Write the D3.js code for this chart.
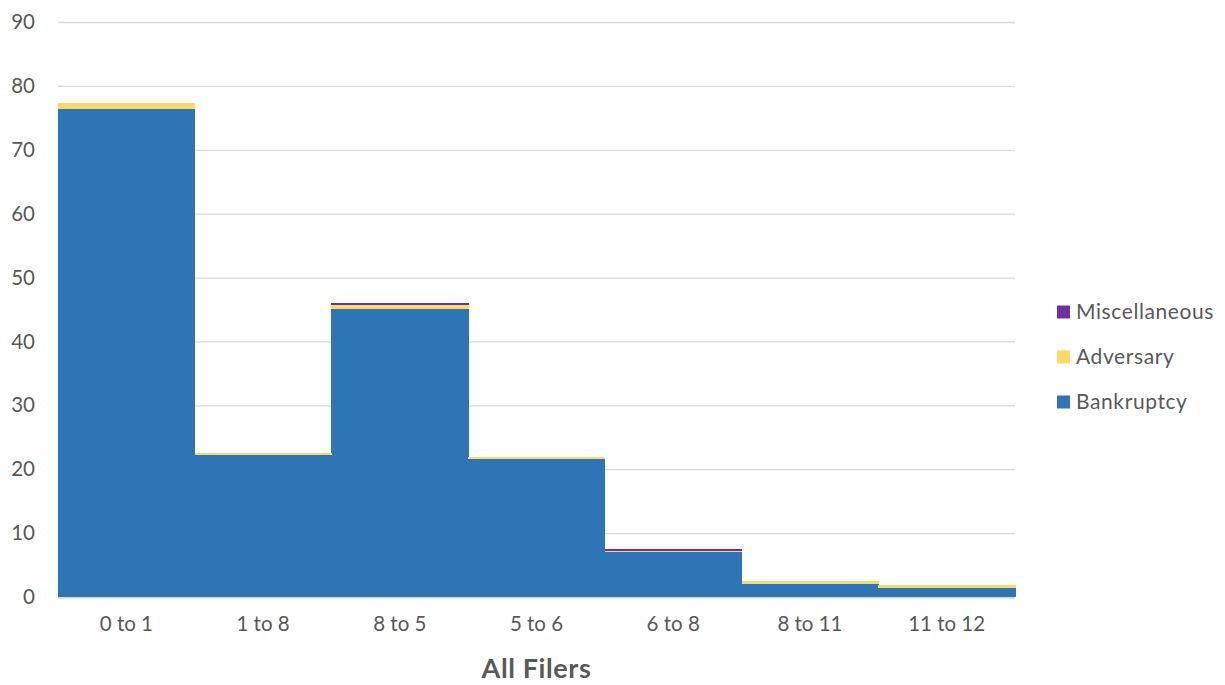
<!DOCTYPE html>
<html><head><meta charset="utf-8">
<script src="https://cdn.jsdelivr.net/npm/d3@7"></script>
<style>body{margin:0;background:#fff}text{font-family:Lato,"Open Sans",sans-serif}</style>
</head><body><svg id="c" width="1225" height="685"></svg>
<script>
const categories = ["0 to 1","1 to 8","8 to 5","5 to 6","6 to 8","8 to 11","11 to 12"];
const bankruptcy = [76.4, 22.2, 45.1, 21.6, 7.1, 2.1, 1.45];
const adversary = [0.95, 0.35, 0.6, 0.35, 0.05, 0.4, 0.4];
const miscellaneous = [0, 0, 0.3, 0, 0.4, 0, 0];
const yTicks = [0,10,20,30,40,50,60,70,80,90];
const seriesNames = ["Bankruptcy","Adversary","Miscellaneous"];
const colors = {Bankruptcy:"#2E75B6", Adversary:"#FFD966", Miscellaneous:"#7030A0"};

const svg = d3.select("#c");
const m = {l:58, r:210, t:22, b:88};
const W = 1225, H = 685;
const x = d3.scaleBand().domain(categories).range([m.l, W-m.r]).padding(0);
const y = d3.scaleLinear().domain([0,90]).range([H-m.b, m.t]);

const rows = categories.map((c,i)=>({cat:c, Bankruptcy:bankruptcy[i], Adversary:adversary[i], Miscellaneous:miscellaneous[i]}));
const stack = d3.stack().keys(seriesNames)(rows);

// gridlines
svg.append("g").selectAll("line").data(yTicks).join("line")
  .attr("x1", m.l).attr("x2", W-m.r)
  .attr("y1", d=>y(d)+0.5).attr("y2", d=>y(d)+0.5)
  .attr("stroke", "#d9d9d9").attr("stroke-width", 1.3);

svg.append("g").attr("shape-rendering","crispEdges").selectAll("g").data(stack).join("g")
  .attr("fill", d=>colors[d.key])
  .selectAll("rect").data(d=>d).join("rect")
  .attr("x", d=>x(d.data.cat)).attr("width", x.bandwidth()+0.6)
  .attr("y", d=>y(d[1])).attr("height", d=>Math.max(0, y(d[0])-y(d[1])));

// baseline
svg.append("line").attr("x1", m.l).attr("x2", W-m.r)
  .attr("y1", y(0)+1).attr("y2", y(0)+1).attr("stroke","#d9d9d9").attr("stroke-width",1.3);

// y axis labels
const ya = d3.axisLeft(y).tickValues(yTicks).tickSize(0).tickPadding(0);
const gy = svg.append("g").attr("transform", `translate(${m.l-23},0)`).call(ya);
gy.select(".domain").remove();
gy.selectAll("text").attr("font-size", 20.5).attr("fill","#595959").style("font-family","Lato,'Open Sans',sans-serif");

// x axis labels
const xa = d3.axisBottom(x).tickSize(0).tickPadding(0);
const gx = svg.append("g").attr("transform", `translate(0,${y(0)+19})`).call(xa);
gx.select(".domain").remove();
gx.selectAll("text").attr("font-size", 20.5).attr("fill","#595959").style("font-family","Lato,'Open Sans',sans-serif");

// title
svg.append("text").attr("x", (m.l + W-m.r)/2).attr("y", 678)
  .attr("text-anchor","middle").attr("font-size", 27).attr("font-weight","bold")
  .attr("letter-spacing", 0.6)
  .attr("fill","#595959").text("All Filers");

// legend
const legendItems = ["Miscellaneous","Adversary","Bankruptcy"];
const lg = svg.append("g").selectAll("g").data(legendItems).join("g")
  .attr("transform", (d,i)=>`translate(1057,${312 + i*45})`);
lg.append("rect").attr("x",0).attr("y",-6.5).attr("width",13).attr("height",13).attr("fill", d=>colors[d]);
lg.append("text").attr("x",19).attr("y",0).attr("dy","0.35em").attr("font-size",21).attr("letter-spacing",0.6)
  .attr("fill","#595959").text(d=>d);
</script></body></html>
